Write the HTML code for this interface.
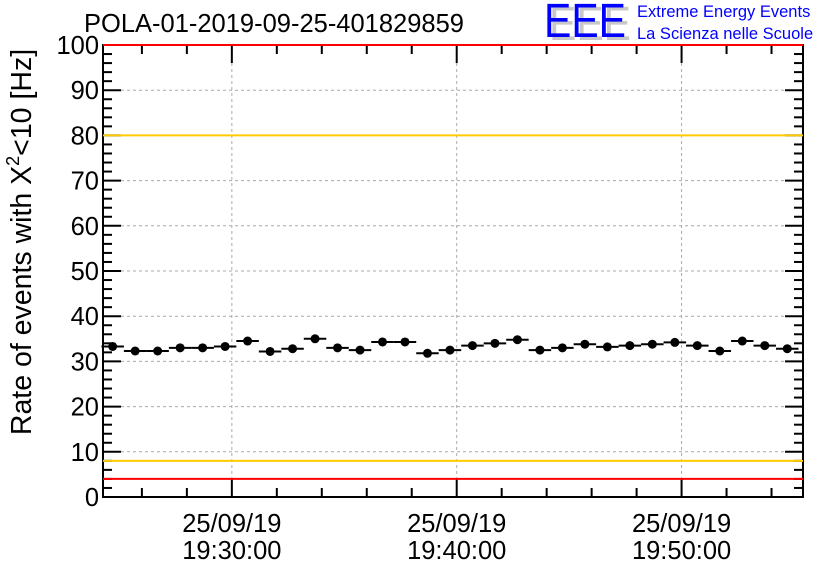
<!DOCTYPE html>
<html><head><meta charset="utf-8"><style>
body{margin:0;background:#fff;}
svg{display:block;font-family:"Liberation Sans",sans-serif;}
</style></head><body>
<svg id="chart" width="836" height="572">
<text x="84" y="32" font-size="25.5">POLA-01-2019-09-25-401829859</text>
<g>
<text x="549" y="40" font-size="48" fill="#c8c8c8" textLength="82" lengthAdjust="spacingAndGlyphs">EEE</text>
<text x="544" y="37" font-size="48" fill="#0000ff" textLength="82" lengthAdjust="spacingAndGlyphs">EEE</text>
<text x="637" y="17" font-size="16.5" fill="#0000ff">Extreme Energy Events</text>
<text x="637" y="39" font-size="16.5" fill="#0000ff">La Scienza nelle Scuole</text>
</g>
<g id="grid"></g><g id="axes"></g><g id="marks"></g>
<text transform="translate(31,242) rotate(-90)" text-anchor="middle" font-size="28.5">Rate of events with X<tspan font-size="18" dy="-12">2</tspan><tspan dy="12">&lt;10 [Hz]</tspan></text>
</svg>
<script>
const minutes=[];for(let i=0;i<31;i++)minutes.push(i);
const rates=[33.3,32.3,32.3,33,33,33.3,34.5,32.2,32.8,35,33,32.5,34.3,34.3,31.8,32.5,33.5,34,34.8,32.5,33,33.8,33.2,33.5,33.8,34.2,33.5,32.3,34.5,33.5,32.8];
const yTicks=[0,10,20,30,40,50,60,70,80,90,100];
const xTickMinutes=[0,10,20];
const xTickLabels=[["25/09/19","19:30:00"],["25/09/19","19:40:00"],["25/09/19","19:50:00"]];
const redLimits=[4,100], orangeLimits=[8,80];
const firstBinOffset=-5.3;
const L=103,R=803,T=45,B=497,x0=-5.73,x1=25.4;
const X=m=>L+(m-x0)/(x1-x0)*(R-L);
const Y=v=>B-v/100*(B-T);
const NS="http://www.w3.org/2000/svg";
function mk(p,t,a){const e=document.createElementNS(NS,t);for(const k in a)e.setAttribute(k,a[k]);p.appendChild(e);return e;}
const grid=document.getElementById('grid'),axes=document.getElementById('axes'),marks=document.getElementById('marks');
yTicks.forEach(v=>{
 if(v>0&&v<100){const g=mk(grid,'line',{x1:L,x2:R,y1:Y(v),y2:Y(v),stroke:'#aaa','stroke-dasharray':'3,3'});
 }
 const t=mk(axes,'text',{x:L-4,y:Y(v)+9,'text-anchor':'end','font-size':'25.5'});t.textContent=v;
 
 mk(axes,'line',{x1:L,x2:L+18,y1:Y(v),y2:Y(v),stroke:'#000','stroke-width':2});
 mk(axes,'line',{x1:R,x2:R-18,y1:Y(v),y2:Y(v),stroke:'#000','stroke-width':2});
});
for(let v=0;v<=100;v+=2){if(v%10==0)continue;
 mk(axes,'line',{x1:L,x2:L+9,y1:Y(v),y2:Y(v),stroke:'#000','stroke-width':2});
 mk(axes,'line',{x1:R,x2:R-9,y1:Y(v),y2:Y(v),stroke:'#000','stroke-width':2});}
xTickMinutes.forEach((m,i)=>{
 const g=mk(grid,'line',{x1:X(m),x2:X(m),y1:T,y2:B,stroke:'#aaa','stroke-dasharray':'3,3'});
 
 xTickLabels[i].forEach((s,j)=>{const t=mk(axes,'text',{x:X(m),y:532+j*27,'text-anchor':'middle','font-size':'25.5'});t.textContent=s;
 });
});
for(let m=-4;m<=24;m+=2){const big=m%10==0;const h=big?18:9;
 mk(axes,'line',{x1:X(m),x2:X(m),y1:B,y2:B-h,stroke:'#000','stroke-width':2});
 mk(axes,'line',{x1:X(m),x2:X(m),y1:T,y2:T+h,stroke:'#000','stroke-width':2});}
const fr=mk(axes,'rect',{x:L,y:T,width:R-L,height:B-T,fill:'none',stroke:'#000','stroke-width':2});

redLimits.forEach(v=>{const l=mk(marks,'line',{x1:L,x2:R,y1:Y(v),y2:Y(v),stroke:'#ff0000','stroke-width':2});
 });
orangeLimits.forEach(v=>{const l=mk(marks,'line',{x1:L,x2:R,y1:Y(v),y2:Y(v),stroke:'#ffcc00','stroke-width':2});
 });
rates.forEach((v,i)=>{const c=firstBinOffset+minutes[i];
 const e=mk(marks,'line',{x1:X(c-0.5),x2:X(c+0.5),y1:Y(v),y2:Y(v),stroke:'#000','stroke-width':2});
 
 const p=mk(marks,'circle',{cx:X(c),cy:Y(v),r:4.5,fill:'#000'});
 });
</script>
</body></html>
